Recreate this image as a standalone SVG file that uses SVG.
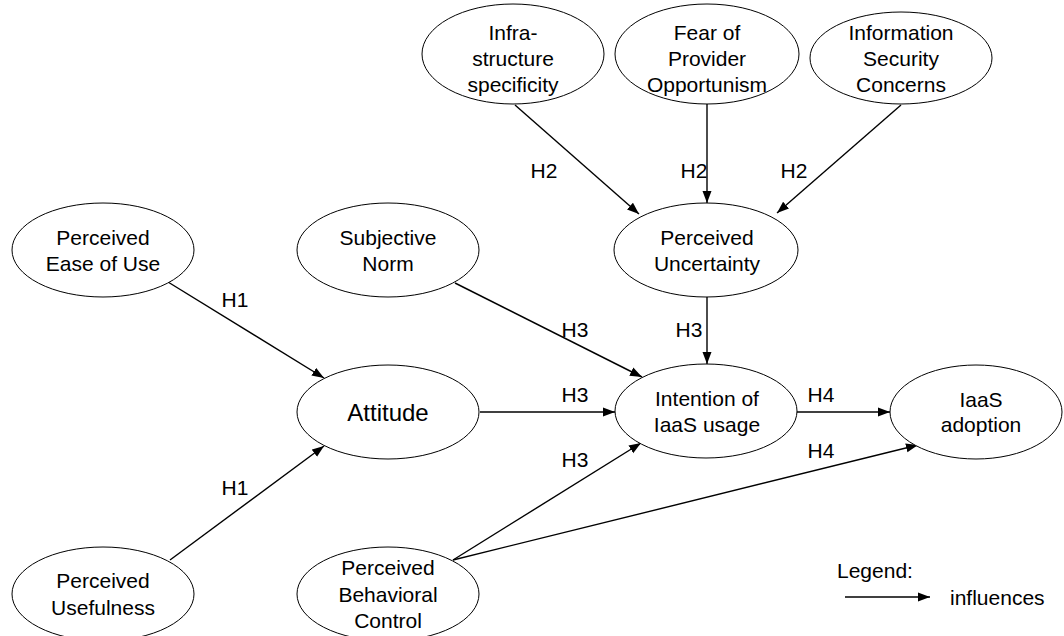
<svg xmlns="http://www.w3.org/2000/svg" width="1064" height="636" viewBox="0 0 1064 636">
  <style>
    .node ellipse { fill: #ffffff; stroke: #000000; stroke-width: 1; }
    .node text, .lbl { font-family: "Liberation Sans", Arial, sans-serif; font-size: 21px; fill: #000000; text-anchor: middle; }
    .big { font-size: 24px !important; }
    .edge { stroke: #000000; stroke-width: 1.4; fill: none; marker-end: url(#arrow); }
    .legend { font-family: "Liberation Sans", Arial, sans-serif; font-size: 21px; fill: #000000; }
  </style>
  <defs>
    <marker id="arrow" markerUnits="userSpaceOnUse" markerWidth="13" markerHeight="10" refX="12" refY="5" orient="auto">
      <path d="M0,0.5 L12,5 L0,9.5 z" fill="#000000"/>
    </marker>
  </defs>
  <rect width="1064" height="636" fill="#ffffff"/>

  <!-- connectors -->
  <g id="connectors">
    <line class="edge" x1="515" y1="105" x2="639" y2="214"/>
    <line class="edge" x1="707" y1="103" x2="707" y2="203"/>
    <line class="edge" x1="901" y1="105" x2="777" y2="213"/>
    <line class="edge" x1="707" y1="297" x2="707" y2="364"/>
    <line class="edge" x1="455" y1="283" x2="642" y2="377"/>
    <line class="edge" x1="168" y1="282" x2="324" y2="378"/>
    <line class="edge" x1="170" y1="560" x2="324" y2="446"/>
    <line class="edge" x1="480" y1="412" x2="615" y2="412"/>
    <line class="edge" x1="797" y1="412" x2="890" y2="412"/>
    <line class="edge" x1="453" y1="560" x2="641" y2="443"/>
    <line class="edge" x1="453" y1="560" x2="918" y2="445"/>
  </g>

  <!-- connector labels -->
  <g id="labels">
    <text class="lbl" x="544" y="178">H2</text>
    <text class="lbl" x="694" y="178">H2</text>
    <text class="lbl" x="794" y="178">H2</text>
    <text class="lbl" x="235" y="307">H1</text>
    <text class="lbl" x="235" y="495">H1</text>
    <text class="lbl" x="575" y="337">H3</text>
    <text class="lbl" x="689" y="337">H3</text>
    <text class="lbl" x="575" y="402">H3</text>
    <text class="lbl" x="575" y="467">H3</text>
    <text class="lbl" x="821" y="402">H4</text>
    <text class="lbl" x="821" y="458">H4</text>
  </g>

  <g id="infrastructure" class="node">
    <ellipse cx="513" cy="54" rx="91" ry="50"/>
    <text x="513" y="40">Infra-</text>
    <text x="513" y="66">structure</text>
    <text x="513" y="92">specificity</text>
  </g>
  <g id="fear" class="node">
    <ellipse cx="707" cy="54" rx="92" ry="50"/>
    <text x="707" y="40">Fear of</text>
    <text x="707" y="66">Provider</text>
    <text x="707" y="92">Opportunism</text>
  </g>
  <g id="security" class="node">
    <ellipse cx="901" cy="58" rx="91" ry="46"/>
    <text x="901" y="40">Information</text>
    <text x="901" y="66">Security</text>
    <text x="901" y="92">Concerns</text>
  </g>
  <g id="ease" class="node">
    <ellipse cx="103" cy="250" rx="91" ry="47"/>
    <text x="103" y="245">Perceived</text>
    <text x="103" y="271">Ease of Use</text>
  </g>
  <g id="norm" class="node">
    <ellipse cx="388" cy="250" rx="91" ry="47"/>
    <text x="388" y="245">Subjective</text>
    <text x="388" y="271">Norm</text>
  </g>
  <g id="uncertainty" class="node">
    <ellipse cx="706" cy="250" rx="92" ry="47"/>
    <text x="707" y="245">Perceived</text>
    <text x="707" y="271">Uncertainty</text>
  </g>
  <g id="attitude" class="node">
    <ellipse cx="388" cy="412" rx="91" ry="47"/>
    <text class="big" x="388" y="421">Attitude</text>
  </g>
  <g id="intention" class="node">
    <ellipse cx="706" cy="411" rx="91" ry="47"/>
    <text x="707" y="406">Intention of</text>
    <text x="707" y="432">IaaS usage</text>
  </g>
  <g id="adoption" class="node">
    <ellipse cx="976" cy="412" rx="86" ry="47"/>
    <text x="981" y="407">IaaS</text>
    <text x="981" y="432">adoption</text>
  </g>
  <g id="usefulness" class="node">
    <ellipse cx="103" cy="594" rx="91" ry="47"/>
    <text x="103" y="588">Perceived</text>
    <text x="103" y="615">Usefulness</text>
  </g>
  <g id="control" class="node">
    <ellipse cx="388" cy="594" rx="91" ry="47"/>
    <text x="388" y="575">Perceived</text>
    <text x="388" y="602">Behavioral</text>
    <text x="388" y="628">Control</text>
  </g>

  <!-- legend -->
  <g id="legend">
    <text class="legend" x="837" y="578">Legend:</text>
    <line class="edge" x1="845" y1="597" x2="930" y2="597"/>
    <text class="legend" x="950" y="605">influences</text>
  </g>
</svg>
